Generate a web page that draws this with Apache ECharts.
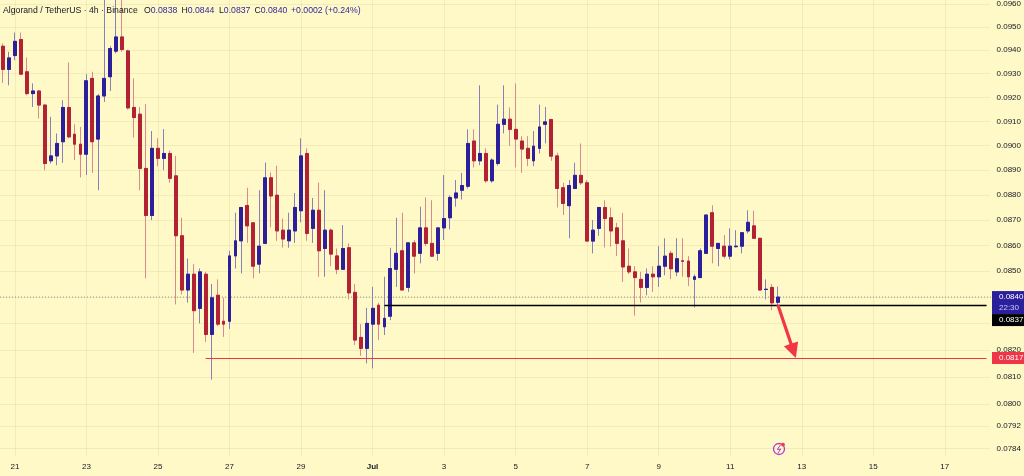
<!DOCTYPE html>
<html><head><meta charset="utf-8">
<script src="https://cdn.jsdelivr.net/npm/echarts@6/dist/echarts.min.js"></script>
<style>html,body{margin:0;padding:0;background:#fff9c8;}#c{width:1024px;height:476px;}</style>
</head><body><div id="c"></div>
<script>
// ---- data ----
const startUTC = Date.UTC(2024, 5, 20, 16); // first 4h candle
const slotCount = 166;                        // candle slots on the time axis
const opens = [0.09417,0.09318,0.09377,0.09446,0.09308,0.09216,0.09227,0.09168,0.08938,0.08958,
0.09016,0.09158,0.09047,0.09006,0.08965,0.09280,0.09027,0.09206,0.09287,0.09396,
0.09457,0.09397,0.09158,0.09130,0.08907,0.08718,0.08989,0.08948,0.08968,0.08877,
0.08638,0.08427,0.08488,0.08357,0.08488,0.08258,0.08407,0.08308,0.08308,0.08559,
0.08618,0.08758,0.08689,0.08527,0.08608,0.08869,0.08799,0.08660,0.08618,0.08657,
0.08737,0.08968,0.08667,0.08739,0.08588,0.08660,0.08559,0.08507,0.08591,0.08418,
0.08247,0.08206,0.08297,0.08369,0.08287,0.08327,0.08507,0.08579,0.08437,0.08610,
0.08569,0.08669,0.08608,0.08569,0.08669,0.08709,0.08788,0.08819,0.08835,0.09019,
0.08938,0.08968,0.08857,0.08927,0.09088,0.09109,0.09067,0.09019,0.08989,0.08938,
0.08989,0.09088,0.09108,0.08958,0.08829,0.08757,0.08826,0.08879,0.08849,0.08617,
0.08667,0.08750,0.08709,0.08669,0.08618,0.08519,0.08497,0.08468,0.08437,0.08488,
0.08478,0.08519,0.08569,0.08497,0.08540,0.08539,0.08468,0.08475,0.08569,0.08729,
0.08588,0.08597,0.08558,0.08595,0.08597,0.08657,0.08677,0.08628,0.08429,0.08437,
0.0838];
const closes = [0.09318,0.09367,0.09438,0.09298,0.09216,0.09227,0.09168,0.08927,0.08958,0.09009,
0.09158,0.09036,0.09006,0.08965,0.09270,0.09016,0.09206,0.09280,0.09407,0.09457,
0.09403,0.09156,0.09116,0.08907,0.08718,0.08989,0.08948,0.08968,0.08867,0.08638,
0.08427,0.08488,0.08348,0.08497,0.08258,0.08397,0.08297,0.08297,0.08559,0.08618,
0.08750,0.08677,0.08519,0.08597,0.08869,0.08796,0.08657,0.08625,0.08660,0.08750,
0.08958,0.08647,0.08739,0.08579,0.08660,0.08566,0.08507,0.08588,0.08416,0.08237,
0.08206,0.08300,0.08357,0.08297,0.08319,0.08510,0.08569,0.08427,0.08610,0.08558,
0.08669,0.08608,0.08558,0.08669,0.08706,0.08790,0.08808,0.08838,0.09009,0.08938,
0.08968,0.08857,0.08941,0.09088,0.09109,0.09067,0.09027,0.08986,0.08948,0.08998,
0.09077,0.09098,0.08957,0.08826,0.08766,0.08838,0.08879,0.08849,0.08617,0.08660,
0.08750,0.08706,0.08657,0.08608,0.08516,0.08497,0.08475,0.08437,0.08488,0.08478,
0.08519,0.08558,0.08509,0.08548,0.08538,0.08478,0.08478,0.08579,0.08720,0.08597,
0.08608,0.08558,0.08597,0.08597,0.08650,0.08691,0.08628,0.08427,0.08430,0.08378,
0.0840];
const highs = [0.09429,0.09393,0.09476,0.09476,0.09369,0.09259,0.09230,0.09172,0.09119,0.09050,
0.09188,0.09348,0.09088,0.09077,0.09298,0.09308,0.09214,0.0968,0.09417,0.0966,
0.0964,0.09403,0.09280,0.09160,0.09172,0.09060,0.09030,0.09068,0.08979,0.08958,
0.08709,0.08549,0.08527,0.08510,0.08497,0.08450,0.08468,0.08397,0.08579,0.08729,
0.08751,0.08829,0.08689,0.08819,0.08931,0.08891,0.08918,0.08706,0.08729,0.08808,
0.09030,0.08989,0.08788,0.08850,0.08819,0.08667,0.08588,0.08680,0.08608,0.08450,
0.08297,0.08359,0.08439,0.08378,0.08478,0.08591,0.08709,0.08729,0.08610,0.08621,
0.08753,0.08790,0.08779,0.08669,0.08880,0.08799,0.08860,0.08889,0.09067,0.09067,
0.09251,0.08989,0.08948,0.09170,0.09251,0.09158,0.09259,0.09039,0.09039,0.09060,
0.09170,0.09160,0.09108,0.08971,0.08849,0.08860,0.08930,0.09009,0.08860,0.08700,
0.08750,0.08779,0.08750,0.08689,0.08729,0.08588,0.08519,0.08497,0.08510,0.08519,
0.08597,0.08628,0.08579,0.08628,0.08628,0.08558,0.08487,0.08588,0.08720,0.08759,
0.08608,0.08641,0.08667,0.08660,0.08650,0.08739,0.08737,0.08628,0.08468,0.08450,
0.0844];
const lows = [0.09261,0.09251,0.09357,0.09294,0.09209,0.09160,0.09112,0.08900,0.08927,0.08920,
0.08930,0.09030,0.08941,0.08871,0.08880,0.08889,0.08819,0.09181,0.09227,0.09386,
0.09393,0.09150,0.09033,0.08819,0.08472,0.08700,0.08916,0.08900,0.08849,0.08372,
0.08410,0.08379,0.08189,0.08300,0.08230,0.08090,0.08289,0.08249,0.08279,0.08510,
0.08491,0.08610,0.08472,0.08491,0.08605,0.08671,0.08618,0.08591,0.08591,0.08610,
0.08691,0.08618,0.08610,0.08478,0.08478,0.08519,0.08488,0.08507,0.08391,0.08218,
0.08178,0.08150,0.08131,0.08237,0.08256,0.08312,0.08439,0.08427,0.08420,0.08491,
0.08530,0.08597,0.08555,0.08540,0.08621,0.08663,0.08753,0.08782,0.08826,0.08911,
0.08920,0.08849,0.08849,0.08918,0.09050,0.08999,0.08911,0.08889,0.08916,0.08916,
0.08968,0.09009,0.08938,0.08750,0.08720,0.08628,0.08826,0.08840,0.08617,0.08569,
0.08638,0.08592,0.08595,0.08559,0.08458,0.08488,0.08329,0.08379,0.08407,0.08420,
0.08439,0.08484,0.08469,0.08480,0.08478,0.08442,0.08360,0.08472,0.08569,0.08530,
0.08519,0.08549,0.08545,0.08592,0.08569,0.08647,0.08628,0.08424,0.08391,0.08350,
0.0837];
const priceTicks = [0.0960,0.0950,0.0940,0.0930,0.0920,0.0910,0.0900,0.0890,0.0880,0.0870,
0.0860,0.0850,0.0840,0.0830,0.0820,0.0810,0.0800,0.0792,0.0784];
const lastPrice = 0.0840;
const levelBlack = 0.0837;
const levelRed = 0.0817;
const countdown = '22:30';
const blackStartIdx = 64;
const redStartIdx = 34;
const arrowTipIdx = 133;
const titleText = 'Algorand / TetherUS · 4h · Binance';

// ---- build ----
const FONT = "'Liberation Sans', Arial, sans-serif";
const UP = '#2b1f9c', DOWN = '#b22234';
const UPW = '#8680bd', DOWNW = '#d98a90';
const GRID = 'rgba(120,105,20,0.09)';
const TXT = '#131722';

const cats = [];
for (let i = 0; i < slotCount; i++) {
  const d = new Date(startUTC + i * 4 * 3600 * 1000);
  const mm = String(d.getUTCMonth() + 1).padStart(2, '0');
  const dd = String(d.getUTCDate()).padStart(2, '0');
  const hh = String(d.getUTCHours()).padStart(2, '0');
  cats.push(mm + '-' + dd + ' ' + hh);
}
function showTick(index, value) {
  const v = value || cats[index];
  const day = parseInt(v.slice(3, 5), 10);
  return v.slice(6, 8) === '00' && day % 2 === 1;
}
function fmtX(value) {
  const day = parseInt(value.slice(3, 5), 10);
  const mon = value.slice(0, 2);
  if (day === 1 && mon === '07') return '{b|Jul}';
  return String(day);
}

const wickData = opens.map((o, i) => [o, closes[i], lows[i], highs[i]]);
const bodyData = opens.map((o, i) => [o, closes[i], Math.min(o, closes[i]), Math.max(o, closes[i])]);
const lastIdx = opens.length - 1;

const chart = echarts.init(document.getElementById('c'), null, {renderer: 'canvas'});
chart.setOption({
  backgroundColor: '#fff9c8',
  animation: false,
  grid: {left: 0, top: 0, width: 992, height: 456},
  xAxis: {
    type: 'category', data: cats, boundaryGap: true,
    axisLine: {show: false}, axisTick: {show: false},
    axisLabel: {interval: showTick, formatter: fmtX, color: TXT, fontSize: 8, margin: 7, fontFamily: FONT,
      rich: {b: {fontWeight: 'bold', fontSize: 8, color: TXT, fontFamily: FONT}}},
    splitLine: {show: true, interval: showTick, alignWithLabel: true, lineStyle: {color: GRID, width: 1}}
  },
  yAxis: {
    type: 'log', logBase: 10, min: 0.078132, max: 0.096166, position: 'right',
    axisLine: {show: false},
    axisTick: {show: false, customValues: priceTicks},
    axisLabel: {customValues: priceTicks, formatter: v => Number(v).toFixed(4), color: TXT, fontSize: 8, margin: 7, fontFamily: FONT},
    splitLine: {show: true, lineStyle: {color: GRID, width: 1}}
  },
  series: [
    {
      type: 'candlestick', data: wickData, barWidth: 3.4, silent: true, clip: true, z: 3,
      itemStyle: {color: UPW, color0: DOWNW, borderColor: UPW, borderColor0: DOWNW, borderColorDoji: UPW, borderWidth: 1}
    },
    {
      type: 'candlestick', data: bodyData, barWidth: 3.4, silent: true, clip: true, z: 4,
      itemStyle: {color: UP, color0: DOWN, borderColor: UP, borderColor0: DOWN, borderColorDoji: UP, borderWidth: 1},
      markLine: {
        silent: true, symbol: ['none', 'none'], animation: false, label: {show: false},
        data: [
          [{xAxis: blackStartIdx, yAxis: levelBlack, lineStyle: {color: '#000000', type: 'solid', width: 1.3}},
           {xAxis: slotCount - 1, yAxis: levelBlack}],
          [{xAxis: redStartIdx, yAxis: levelRed, lineStyle: {color: '#ee3344', type: 'solid', width: 1.1}},
           {xAxis: slotCount - 1, yAxis: levelRed}]
        ]
      }
    }
  ]
});

// ---- annotations positioned through the chart's own scales ----
const yLast = chart.convertToPixel({yAxisIndex: 0}, lastPrice);
const yRed = chart.convertToPixel({yAxisIndex: 0}, levelRed);
const p0 = chart.convertToPixel({seriesIndex: 1}, [lastIdx, levelBlack]);
const p1 = chart.convertToPixel({seriesIndex: 1}, [arrowTipIdx, levelRed]);
const dx = p1[0] - p0[0], dy = p1[1] - p0[1];
const L = Math.sqrt(dx * dx + dy * dy);
const ux = dx / L, uy = dy / L, nx = -uy, ny = ux;
const headL = 15, headW = 7.5, shaftW = 1.6;
const bx = p1[0] - ux * headL, by = p1[1] - uy * headL;
const arrowPts = [
  [p0[0] + nx * shaftW, p0[1] + ny * shaftW],
  [bx + nx * shaftW, by + ny * shaftW],
  [bx + nx * headW, by + ny * headW],
  [p1[0], p1[1]],
  [bx - nx * headW, by - ny * headW],
  [bx - nx * shaftW, by - ny * shaftW],
  [p0[0] - nx * shaftW, p0[1] - ny * shaftW]
];

const o = opens[lastIdx], h = highs[lastIdx], l = lows[lastIdx], c = closes[lastIdx];
const chg = c - o, pct = chg / o * 100;
const hdrY = 10.5;
const hdrFont = {fontSize: 8.7, fontFamily: FONT};
function hdr(x, label, val) {
  return {type: 'text', x: x, y: hdrY, z: 100, style: Object.assign({
    text: '{l|' + label + '}{v|' + val + '}', verticalAlign: 'middle',
    rich: {l: Object.assign({fill: TXT}, hdrFont), v: Object.assign({fill: UP}, hdrFont)}
  }, hdrFont)};
}
const tagX = 992;
chart.setOption({
  graphic: [
    // current price dotted line (behind candles)
    {type: 'line', z: 1, shape: {x1: 0, y1: yLast, x2: 992, y2: yLast}, style: {stroke: '#8f8f8f', lineWidth: 1, lineDash: [1, 2]}},
    {type: 'text', x: 3, y: hdrY, z: 100, style: Object.assign({text: titleText, fill: TXT, verticalAlign: 'middle'}, hdrFont)},
    hdr(144, 'O', o.toFixed(4)),
    hdr(181.5, 'H', h.toFixed(4)),
    hdr(219, 'L', l.toFixed(4)),
    hdr(254.5, 'C', c.toFixed(4)),
    {type: 'text', x: 291, y: hdrY, z: 100, style: Object.assign({
      text: (chg >= 0 ? '+' : '') + chg.toFixed(4) + ' (' + (pct >= 0 ? '+' : '') + pct.toFixed(2) + '%)',
      fill: UP, verticalAlign: 'middle'}, hdrFont)},
    // price tags
    {type: 'rect', z: 100, shape: {x: tagX, y: yLast - 6, width: 32, height: 23}, style: {fill: '#2b1f9c'}},
    {type: 'text', z: 101, x: 999, y: yLast, style: {text: lastPrice.toFixed(4), fill: '#ffffff', fontSize: 8, fontFamily: FONT, verticalAlign: 'middle'}},
    {type: 'text', z: 101, x: 999, y: yLast + 11, style: {text: countdown, fill: '#cfcaff', fontSize: 8, fontFamily: FONT, verticalAlign: 'middle'}},
    {type: 'rect', z: 100, shape: {x: tagX, y: yLast + 17, width: 32, height: 12}, style: {fill: '#000000'}},
    {type: 'text', z: 101, x: 999, y: yLast + 23, style: {text: levelBlack.toFixed(4), fill: '#ffffff', fontSize: 8, fontFamily: FONT, verticalAlign: 'middle'}},
    {type: 'rect', z: 100, shape: {x: tagX, y: yRed - 6, width: 32, height: 12}, style: {fill: '#ef3648'}},
    {type: 'text', z: 101, x: 999, y: yRed, style: {text: levelRed.toFixed(4), fill: '#ffffff', fontSize: 8, fontFamily: FONT, verticalAlign: 'middle'}},
    // arrow
    {type: 'polygon', z: 90, shape: {points: arrowPts}, style: {fill: '#f23645'}},
    // lightning badge
    {type: 'circle', z: 90, shape: {cx: 779, cy: 449, r: 5.5}, style: {fill: 'none', stroke: '#b53bd6', lineWidth: 1.3}},
    {type: 'polyline', z: 91, shape: {points: [[780.5, 444.8], [777.3, 449.6], [780.7, 449], [777.8, 453.4]]}, style: {stroke: '#b53bd6', lineWidth: 1, fill: 'none'}},
    {type: 'circle', z: 92, shape: {cx: 783, cy: 444.6, r: 1.9}, style: {fill: '#ef3b4b'}}
  ]
});
</script>
</body></html>
